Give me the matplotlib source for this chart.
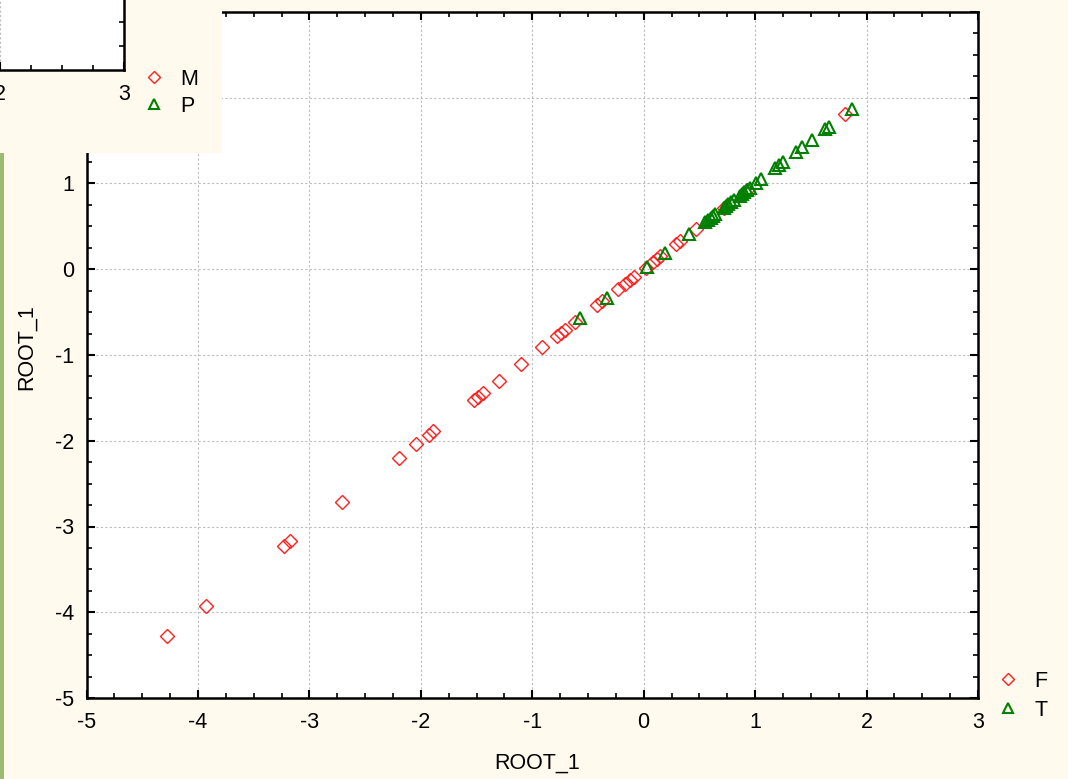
import matplotlib
matplotlib.use("Agg")
import matplotlib.pyplot as plt
from matplotlib.ticker import MultipleLocator, FixedLocator

plt.rcParams['font.family'] = ['Liberation Sans', 'DejaVu Sans']
plt.rcParams['axes.unicode_minus'] = False

# ---- data (ROOT_1 scores, plotted against themselves) ----
root_F = [-4.28, -3.93, -3.23, -3.17, -2.71, -2.20, -2.04, -1.93, -1.89, -1.52,
          -1.49, -1.44, -1.30, -1.10, -0.91, -0.78, -0.74, -0.71, -0.62, -0.42,
          -0.37, -0.23, -0.17, -0.12, -0.09, 0.02, 0.08, 0.12, 0.15, 0.29,
          0.33, 0.47, 0.72, 0.93, 1.81]
root_T = [-0.57, -0.33, 0.03, 0.19, 0.41, 0.55, 0.58, 0.60, 0.62, 0.64,
          0.72, 0.74, 0.76, 0.78, 0.81, 0.86, 0.88, 0.90, 0.93, 0.95,
          1.01, 1.05, 1.18, 1.21, 1.25, 1.37, 1.42, 1.51, 1.63, 1.66, 1.87]
x_ticks = [-5, -4, -3, -2, -1, 0, 1, 2, 3]
y_ticks = [-5, -4, -3, -2, -1, 0, 1, 2, 3]
groups_main = ["F", "T"]
groups_overlay = ["M", "P"]
overlay_ticks = [2, 3]

CREAM = "#FFF9EE"
RED = "#FF2020"
GREEN = "#008000"
FS = 15.5
W, H = 1068, 779

fig = plt.figure(figsize=(W / 100, H / 100), dpi=100, facecolor=CREAM)

# ---- main axes ----
ax = fig.add_axes([86.5 / W, 1 - 698 / H, (978 - 86.5) / W, (698 - 12) / H])
ax.set_facecolor("white")
ax.plot(root_F, root_F, linestyle="none", marker="D", markersize=7.3,
        markerfacecolor="none", markeredgecolor=RED, markeredgewidth=1.0,
        label=groups_main[0], zorder=3)
ax.plot(root_T, root_T, linestyle="none", marker="^", markersize=9,
        markerfacecolor="none", markeredgecolor=GREEN, markeredgewidth=1.5,
        label=groups_main[1], zorder=4)
ax.set_xlim(-5, 3)
ax.set_ylim(-5, 3)
ax.set_xticks(x_ticks)
ax.set_yticks(y_ticks)
ax.set_yticklabels([str(v) for v in y_ticks[:-2]] + ["", ""])
ax.xaxis.set_minor_locator(MultipleLocator(0.25))
ax.yaxis.set_minor_locator(MultipleLocator(0.25))
ax.tick_params(which="both", direction="in", top=True, right=True,
               labelsize=FS, colors="black")
ax.tick_params(which="major", length=6, width=1.5)
ax.tick_params(which="minor", length=3.5, width=1.2)
ax.tick_params(axis="x", pad=10)
ax.tick_params(axis="y", pad=9)
for s in ax.spines.values():
    s.set_linewidth(1.8)
ax.grid(True, which="major", color="#BDBDBD", linestyle=(0, (2, 2)), linewidth=0.8)
ax.set_axisbelow(True)
ax.set_xlabel("ROOT_1", fontsize=FS)
ax.set_ylabel("ROOT_1", fontsize=FS)
ax.xaxis.set_label_coords(0.506, -0.080, transform=ax.transAxes)
ax.yaxis.set_label_coords(-0.056, 0.512, transform=ax.transAxes)

fig.legend(loc="upper left", bbox_to_anchor=(997 / W, 1 - 671 / H),
           frameon=False, fontsize=FS, handlelength=1.0, handletextpad=0.75,
           labelspacing=0.36, markerscale=0.82, borderaxespad=0, borderpad=0)

# ---- green bar on left edge ----
bar = fig.add_axes([0, 0, 4 / W, 1 - 153 / H])
bar.set_facecolor("#9BBB73")
bar.set_xticks([]); bar.set_yticks([])
for s in bar.spines.values():
    s.set_visible(False)

# ---- overlapping window (top-left) ----
ov = fig.add_axes([0, 1 - 153 / H, 222 / W, 153 / H], zorder=10)
ov.set_facecolor(CREAM)
ov.set_xticks([]); ov.set_yticks([])
for s in ov.spines.values():
    s.set_visible(False)

inner = fig.add_axes([0, 1 - 70 / H, 124 / W, 70 / H], zorder=11)
inner.set_facecolor("white")
inner.set_xlim(2, 3)
inner.set_ylim(0, 0.729)
inner.set_xticks(overlay_ticks)
inner.xaxis.set_minor_locator(MultipleLocator(0.25))
inner.yaxis.set_major_locator(FixedLocator([]))
inner.yaxis.set_minor_locator(FixedLocator([0.25, 0.5]))
inner.tick_params(which="both", direction="in", left=False, right=True,
                  labelsize=FS, colors="black")
inner.tick_params(which="major", length=6, width=1.5, pad=10)
inner.tick_params(which="minor", length=3.5, width=1.2)
inner.spines["top"].set_visible(False)
inner.spines["left"].set_visible(False)
inner.spines["right"].set_linewidth(1.8)
inner.spines["bottom"].set_linewidth(1.8)
inner.grid(True, axis="x", which="major", color="#BDBDBD", linestyle=(0, (2, 2)), linewidth=0.8)

ov_handles = [
    plt.Line2D([], [], linestyle="none", marker="D", markersize=7.3 * 0.82,
               markerfacecolor="none", markeredgecolor=RED, markeredgewidth=1.0),
    plt.Line2D([], [], linestyle="none", marker="^", markersize=9 * 0.82,
               markerfacecolor="none", markeredgecolor=GREEN, markeredgewidth=1.5),
]
leg2 = fig.legend(ov_handles, groups_overlay, loc="upper left",
                  bbox_to_anchor=(143 / W, 1 - 69 / H), frameon=False, fontsize=FS,
                  handlelength=1.0, handletextpad=0.75, labelspacing=0.26,
                  borderaxespad=0, borderpad=0)
leg2.set_zorder(12)

fig.savefig("out.png", dpi=100, facecolor=CREAM)
